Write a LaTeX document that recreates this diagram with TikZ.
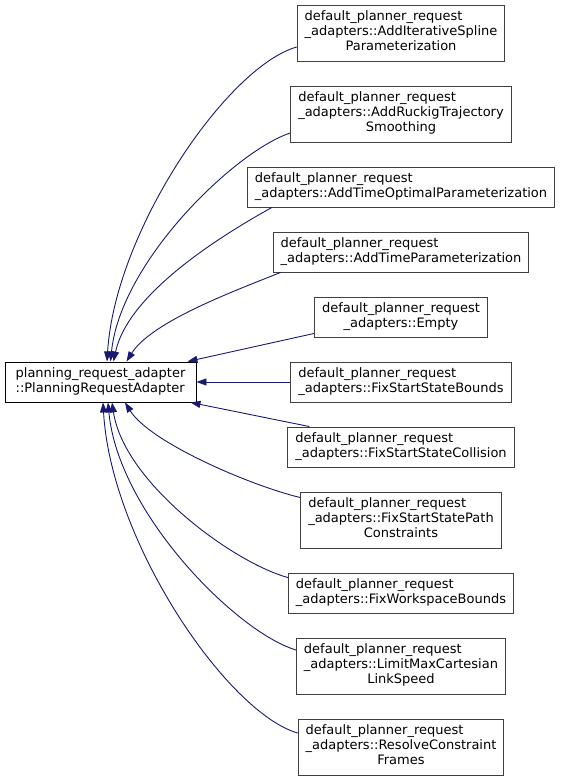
\documentclass[tikz,border=0pt]{standalone}
\usepackage{fontspec}
\setmainfont{DejaVu Sans}
\usetikzlibrary{arrows.meta,positioning}
\definecolor{EdgeNavy}{HTML}{191970}
\definecolor{BoxGrey}{HTML}{404040}
\newcommand{\twoline}[2]{\begin{tabular}{@{}l@{}}#1\\#2\end{tabular}}
\newcommand{\threeline}[3]{\begin{tabular}{@{}l@{}}#1\\#2\\\multicolumn{1}{@{}c@{}}{#3}\end{tabular}}

\begin{document}
\begin{tikzpicture}[x=1pt, y=1pt, node distance=24.1pt,
  every node/.style={font=\fontsize{13}{15}\selectfont, align=center, inner xsep=7.5pt, inner ysep=1pt, fill=white, line width=0.9pt},
  cls/.style={draw=BoxGrey, minimum height=40pt},
  cls3/.style={cls, minimum height=56pt},
  edge/.style={draw=EdgeNavy, line width=0.9pt, -{Triangle[length=10pt,width=7pt]}}]
  \useasboundingbox (0,0) rectangle (564,781);
  \node[draw=black, minimum height=40pt, minimum width=191pt] (pra) at (100.5,399) {\twoline{planning\_request\_adapter}{::PlanningRequestAdapter}};
  \node[cls3] (spl) at (401,748) {\threeline{default\_planner\_request}{\_adapters::AddIterativeSpline}{Parameterization}};
  \node[cls3, below=of spl] (ruck) {\threeline{default\_planner\_request}{\_adapters::AddRuckigTrajectory}{Smoothing}};
  \node[cls, below=of ruck] (topt) {\twoline{default\_planner\_request}{\_adapters::AddTimeOptimalParameterization}};
  \node[cls, below=of topt] (tpar) {\twoline{default\_planner\_request}{\_adapters::AddTimeParameterization}};
  \node[cls, below=of tpar] (empty) {default\_planner\_request\\\_adapters::Empty};
  \node[cls, below=of empty] (bnd) {\twoline{default\_planner\_request}{\_adapters::FixStartStateBounds}};
  \node[cls, below=of bnd] (coll) {\twoline{default\_planner\_request}{\_adapters::FixStartStateCollision}};
  \node[cls3, below=of coll] (path) {\threeline{default\_planner\_request}{\_adapters::FixStartStatePath}{Constraints}};
  \node[cls, below=of path] (wsb) {\twoline{default\_planner\_request}{\_adapters::FixWorkspaceBounds}};
  \node[cls3, below=of wsb] (lmcl) {\threeline{default\_planner\_request}{\_adapters::LimitMaxCartesian}{LinkSpeed}};
  \node[cls3, below=of lmcl] (rcf) {\threeline{default\_planner\_request}{\_adapters::ResolveConstraint}{Frames}};
  % inheritance edges, upper half
  \draw[edge] ([yshift=-14pt]spl.west) .. controls +(-70,-20) and +(8,130) .. ([xshift=6.5pt]pra.north);
  \draw[edge] ([yshift=-19pt]ruck.west) .. controls +(-55,-18) and +(10,100) .. ([xshift=10pt]pra.north);
  \draw[edge] ([xshift=25pt]topt.south west) .. controls +(-45,-25) and +(15,70) .. ([xshift=13pt]pra.north);
  \draw[edge] ([xshift=8pt]tpar.south west) .. controls +(-45,-18) and +(25,40) .. ([xshift=26pt]pra.north);
  \draw[edge] ([yshift=4pt]empty.south west) -- ([xshift=-9pt]pra.north east);
  \draw[edge] (bnd.west) -- (bnd.west -| pra.east);
  % inheritance edges, lower half
  \draw[edge] ([xshift=22pt]coll.north west) -- ([xshift=-6pt]pra.south east);
  \draw[edge] ([yshift=-6pt]path.north west) .. controls +(-50,12) and +(25,-40) .. ([xshift=24.5pt]pra.south);
  \draw[edge] ([yshift=-5pt]wsb.north west) .. controls +(-55,15) and +(12,-80) .. ([xshift=11.5pt]pra.south);
  \draw[edge] ([yshift=16pt]lmcl.west) .. controls +(-60,18) and +(10,-110) .. ([xshift=7.5pt]pra.south);
  \draw[edge] ([yshift=14pt]rcf.west) .. controls +(-70,20) and +(8,-140) .. ([xshift=2.5pt]pra.south);
\end{tikzpicture}
\end{document}
